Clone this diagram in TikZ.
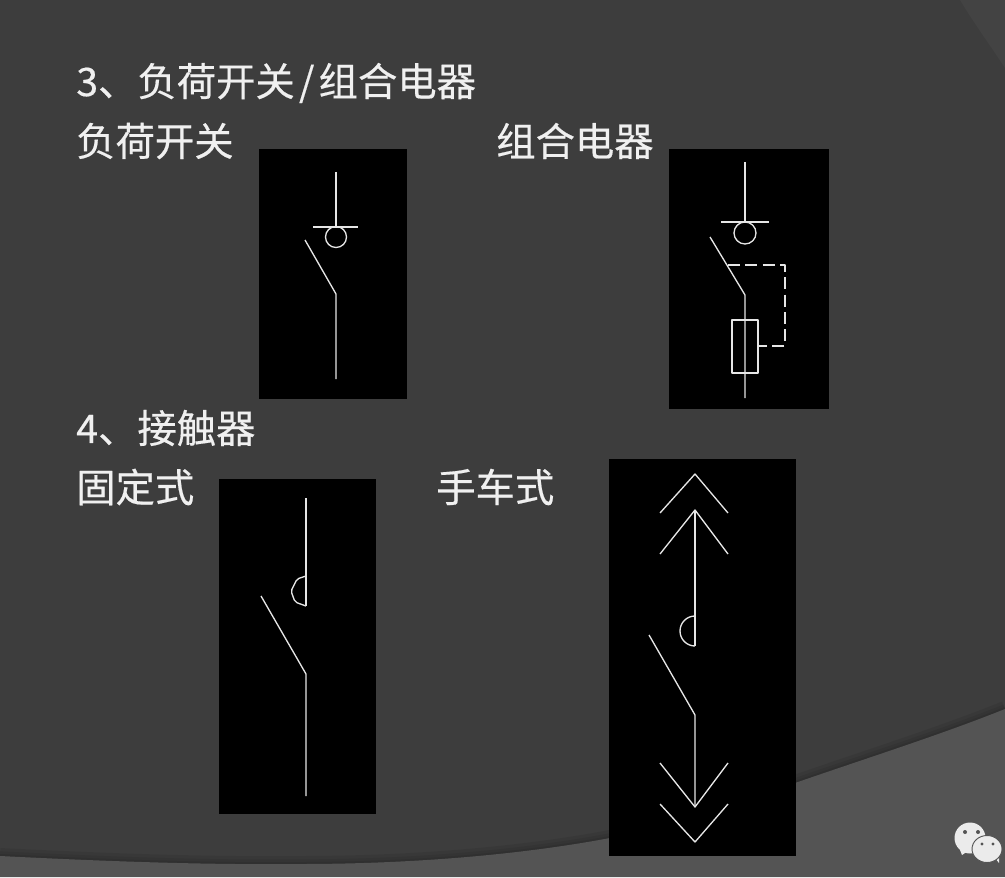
\documentclass[tikz,border=0pt]{standalone}
\usepackage{fontspec}
\setmainfont{Noto Sans CJK SC}[FakeBold=0.4]
\usetikzlibrary{calc}
\definecolor{slide}{HTML}{3D3D3D}
\definecolor{band}{HTML}{545454}
\definecolor{corner}{HTML}{434343}
\definecolor{wire}{HTML}{E6E6E6}
\newcommand{\bandedge}{(0,856) .. controls (100,861) and (200,865) .. (300,864) .. controls (410,864) and (520,855) .. (610,838) .. controls (680,825) and (740,803) .. (795,783) .. controls (870,757) and (940,735) .. (1005,709)}
\tikzset{%
  mytitle/.style={anchor=west, inner sep=0pt, text=white!94!black, font=\fontsize{29.5pt}{32pt}\selectfont},
  mypanel/.style={fill=black, draw=none},
  mywire/.style={draw=wire, line width=1pt, line join=round},
  mydash/.style={mywire, dash pattern=on 9pt off 4pt},
  myshade/.style={draw=black, opacity=0.07},
  mybubble/.style={fill=white!92!black, draw=band, line width=0.7pt}
}

\begin{document}
\begin{tikzpicture}[x=0.75pt, y=-0.75pt]
  \useasboundingbox (0,0) rectangle (1005,877);
  \fill[slide] (0,0) rectangle (1005,877);
  \fill[corner] (960,0) .. controls (975,25) and (990,45) .. (1005,68) -- (1005,0) -- cycle;
  \draw[myshade, line width=12pt] \bandedge;
  \draw[myshade, line width=7pt] \bandedge;
  \draw[myshade, line width=3pt] \bandedge;
  \fill[band] \bandedge -- (1005,877) -- (0,877) -- cycle;

  \node[mytitle] (t3) at (76,83) {3、负荷开关\hspace{3.2pt}/\hspace{3.2pt}组合电器};
  \node[mytitle] (t31) at (76,141) {负荷开关};
  \node[mytitle] (t32) at (496,141) {组合电器};
  \node[mytitle] (t4) at (76,428) {4、接触器};
  \node[mytitle] (t41) at (76,487) {固定式};
  \node[mytitle] (t42) at (436,487) {手车式};

  % load switch
  \fill[mypanel] (259,149) rectangle (407,399);
  \draw[mywire] (336,172) -- (336,227);
  \draw[mywire] (313,227) -- (358,227);
  \draw[mywire] (336,237) circle (10.5);
  \draw[mywire] (305,240) -- (336,294) -- (336,379);

  % combined unit
  \fill[mypanel] (669,149) rectangle (829,409);
  \draw[mywire] (745,162) -- (745,222);
  \draw[mywire] (721,222) -- (769,222);
  \draw[mywire] (745,233) circle (11);
  \draw[mywire] (710,237) -- (745,295) -- (745,398);
  \draw[mywire] (732,320) rectangle (758,373);
  \draw[mydash] (728,265) -- (785,265) -- (785,346) -- (758,346);

  % fixed
  \fill[mypanel] (219,479) rectangle (376,814);
  \draw[mywire] (306,498) -- (306,606);
  \draw[mywire, rounded corners=1.5pt] (306,576) -- (297,579) -- (291,591) -- (295,602) -- (306,606);
  \draw[mywire] (261,596) -- (306,674) -- (306,796);

  % withdrawable
  \fill[mypanel] (609,459) rectangle (796,856);
  \draw[mywire] (660,513) -- (695,474) -- (728,513);
  \draw[mywire] (660,554) -- (695,510) -- (728,554);
  \draw[mywire] (695,510) -- (695,646);
  \draw[mywire] (695,616) arc (270:90:15);
  \draw[mywire] (649,635) -- (695,715) -- (695,807);
  \draw[mywire] (660,763) -- (695,807) -- (728,763);
  \draw[mywire] (660,804) -- (695,842) -- (728,804);

  % chat mark
  \fill[mybubble, draw=none] (960,850) -- (962,855) -- (968,851) -- cycle;
  \fill[mybubble, draw=none] (995,858) -- (999,863) -- (999,855) -- cycle;
  \fill[mybubble, draw=none] (970,838) ellipse (15.5 and 15.5);
  \filldraw[mybubble] (987,849) ellipse (15 and 13.5);
  \fill[band] (965,832) circle (2) (978,832) circle (2) (982,844) circle (1.7) (993,844) circle (1.7);
\end{tikzpicture}
\end{document}
